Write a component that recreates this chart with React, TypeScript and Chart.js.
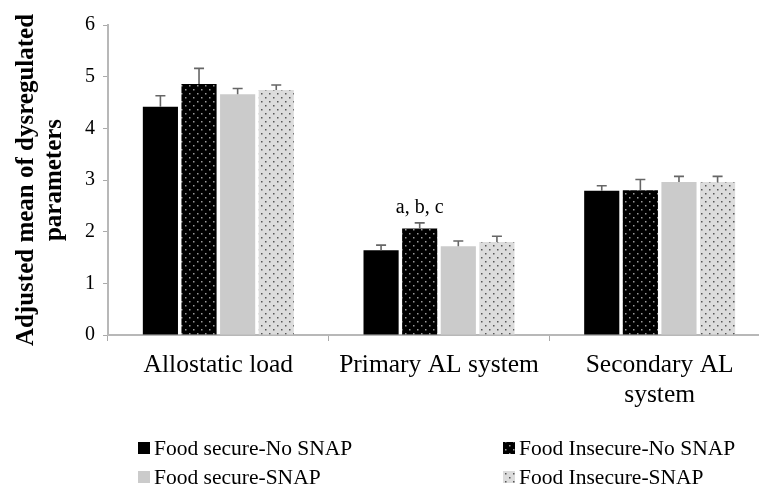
import React, { useEffect, useRef } from "react";
import { Chart, registerables } from "chart.js";
Chart.register(...registerables);

const categories: (string | string[])[] = ["Allostatic load", "Primary AL system", ["Secondary AL", "system"]];
const seriesNames = ["Food secure-No SNAP", "Food Insecure-No SNAP", "Food secure-SNAP", "Food Insecure-SNAP"];
const foodSecureNoSnap = [4.42, 1.64, 2.79];
const foodInsecureNoSnap = [4.86, 2.06, 2.8];
const foodSecureSnap = [4.66, 1.72, 2.96];
const foodInsecureSnap = [4.74, 1.8, 2.96];
const errFoodSecureNoSnap = [0.21, 0.1, 0.1];
const errFoodInsecureNoSnap = [0.3, 0.11, 0.21];
const errFoodSecureSnap = [0.11, 0.1, 0.11];
const errFoodInsecureSnap = [0.1, 0.11, 0.11];
const yMin = 0;
const yMax = 6;
const yStep = 1;
const annotationText = "a, b, c";
const annotationSeries = 1;
const annotationCategory = 1;

const SERIF = "'Liberation Serif', 'Times New Roman', serif";

function makePattern(bg: string, dot: string): CanvasPattern | string {
  const c = document.createElement("canvas");
  c.width = 8;
  c.height = 8;
  const g = c.getContext("2d");
  if (!g) return bg;
  g.fillStyle = bg;
  g.fillRect(0, 0, 8, 8);
  g.fillStyle = dot;
  g.fillRect(1, 1, 1.5, 1.5);
  g.fillRect(5, 5, 1.5, 1.5);
  const p = g.createPattern(c, "repeat");
  return p || bg;
}

export default function App() {
  const ref = useRef<HTMLCanvasElement | null>(null);
  useEffect(() => {
    if (!ref.current) return;
    const fills = [
      "#000000",
      makePattern("#000000", "#9a9a9a"),
      "#cbcbcb",
      makePattern("#dcdcdc", "#555555"),
    ];
    const values = [foodSecureNoSnap, foodInsecureNoSnap, foodSecureSnap, foodInsecureSnap];
    const errors = [errFoodSecureNoSnap, errFoodInsecureNoSnap, errFoodSecureSnap, errFoodInsecureSnap];

    const extras = {
      id: "extras",
      afterDatasetsDraw(chart: any) {
        const ctx = chart.ctx;
        const ys = chart.scales.y;
        ctx.save();
        ctx.strokeStyle = "#666666";
        ctx.lineWidth = 1.6;
        values.forEach((_, i) => {
          const meta = chart.getDatasetMeta(i);
          meta.data.forEach((el: any, j: number) => {
            const top = ys.getPixelForValue(values[i][j] + errors[i][j]);
            ctx.beginPath();
            ctx.moveTo(el.x, el.y);
            ctx.lineTo(el.x, top);
            ctx.moveTo(el.x - 5, top);
            ctx.lineTo(el.x + 5, top);
            ctx.stroke();
          });
        });
        const el = chart.getDatasetMeta(annotationSeries).data[annotationCategory];
        const topA = ys.getPixelForValue(
          values[annotationSeries][annotationCategory] + errors[annotationSeries][annotationCategory]
        );
        ctx.fillStyle = "#000";
        ctx.font = `20px ${SERIF}`;
        ctx.textAlign = "center";
        ctx.textBaseline = "middle";
        ctx.fillText(annotationText, el.x, topA - 15);

        const cols = [138, 503];
        const rows = [448, 477];
        ctx.font = `21.5px ${SERIF}`;
        ctx.textAlign = "left";
        seriesNames.forEach((name, i) => {
          const x = cols[i % 2];
          const y = rows[Math.floor(i / 2)];
          ctx.fillStyle = fills[i] as any;
          ctx.fillRect(x, y - 6, 12, 12);
          ctx.fillStyle = "#000";
          ctx.fillText(name, x + 16, y + 1);
        });
        ctx.restore();
      },
    };

    const chart = new Chart(ref.current, {
      type: "bar",
      data: {
        labels: categories as any,
        datasets: seriesNames.map((name, i) => ({
          label: name,
          data: values[i],
          backgroundColor: fills[i] as any,
          borderWidth: 0,
          categoryPercentage: 0.7,
          barPercentage: 0.91,
        })),
      },
      options: {
        animation: false,
        responsive: false,
        layout: { padding: { top: 25, right: 8, bottom: 77, left: 0 } },
        plugins: { legend: { display: false }, tooltip: { enabled: false } },
        scales: {
          x: {
            grid: { display: true, drawOnChartArea: false, drawTicks: true, tickLength: 6, color: "#aaaaaa", offset: true },
            border: { display: true, color: "#b8b8b8", width: 2 },
            ticks: {
              color: "#000",
              font: { family: SERIF, size: 25.5, lineHeight: 1.18 },
              padding: 9,
              maxRotation: 0,
              autoSkip: false,
            },
            afterFit(s: any) {
              s.height = 75;
            },
          },
          y: {
            min: yMin,
            max: yMax,
            grid: { display: true, drawOnChartArea: false, drawTicks: true, tickLength: 5, color: "#aaaaaa" },
            border: { display: true, color: "#b8b8b8", width: 2 },
            ticks: {
              stepSize: yStep,
              color: "#000",
              font: { family: SERIF, size: 20 },
              padding: 8,
            },
            title: {
              display: true,
              text: ["Adjusted mean of dysregulated", "parameters"],
              color: "#000",
              font: { family: SERIF, size: 25, weight: "bold", lineHeight: 1.12 },
              padding: { top: 13, bottom: 0 },
            },
            afterFit(s: any) {
              s.width = 108;
            },
          },
        },
      },
      plugins: [extras],
    });
    return () => chart.destroy();
  }, []);

  return (
    <div style={{ position: "absolute", left: 0, top: 0, width: 759, height: 487, overflow: "hidden", background: "#fff" }}>
      <canvas ref={ref} width={778} height={487} style={{ display: "block" }} />
    </div>
  );
}
